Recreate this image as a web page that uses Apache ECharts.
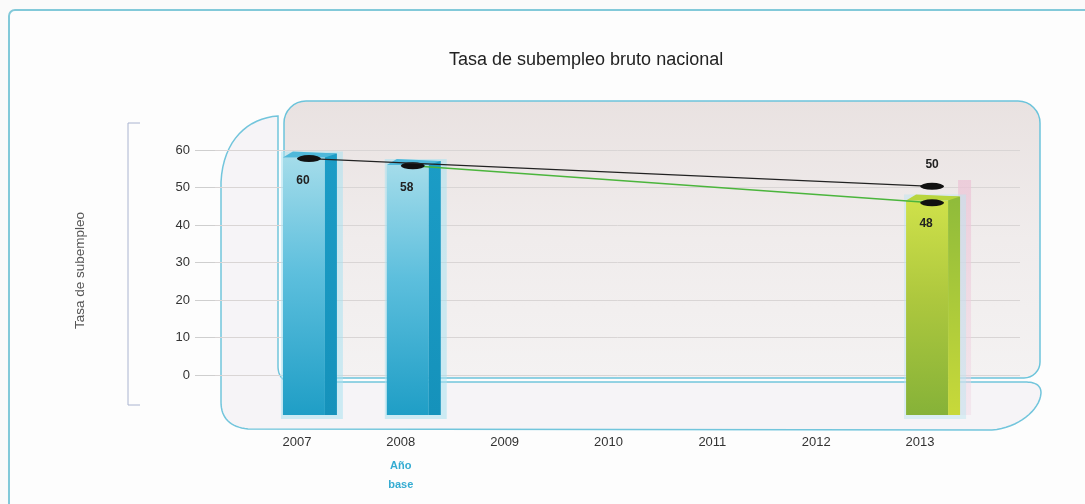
<!DOCTYPE html>
<html>
<head>
<meta charset="utf-8">
<script src="https://cdn.jsdelivr.net/npm/echarts@6/dist/echarts.min.js"></script>
<style>
html,body{margin:0;padding:0;background:#fafafa;}
#chart{width:1085px;height:504px;}
</style>
</head>
<body>
<div id="chart"></div>
<script>
// ---- data ----
const categories = ['2007', '2008', '2009', '2010', '2011', '2012', '2013'];
const yTicks = [0, 10, 20, 30, 40, 50, 60];
// bar heights as drawn against the axis
const baseBars = [58, 56, null, null, null, null, null];
const currentBars = [null, null, null, null, null, null, 46.5];
const ghostBars = [null, null, null, null, null, null, 52];
// numbers printed on the bars
const basePrinted = [60, 58, null, null, null, null, null];
const currentPrinted = [null, null, null, null, null, null, 48];
// line markers as drawn
const blackLine = [57.7, null, null, null, null, null, 50.3];
const greenLine = [null, 55.8, null, null, null, null, 45.9];
const blackPrinted = [null, null, null, null, null, null, 50];
const baseYearLabel = ['Año', 'base'];

const FONT = "'Liberation Sans', Arial, sans-serif";
const chart = echarts.init(document.getElementById('chart'));

function toItems(vals, printed) {
  const out = [];
  vals.forEach((v, i) => { if (v != null) out.push([i, v, printed ? printed[i] : 0]); });
  return out;
}

// sample a simple M/L/C path into polygon points (decorative frame)
function sampleCurve(segs) {
  const pts = [];
  let cur = null;
  segs.forEach(s => {
    if (s[0] === 'M' || s[0] === 'L') { cur = [s[1], s[2]]; pts.push(cur); }
    else if (s[0] === 'C') {
      const p0 = cur, p1 = [s[1], s[2]], p2 = [s[3], s[4]], p3 = [s[5], s[6]];
      for (let k = 1; k <= 16; k++) {
        const t = k / 16, u = 1 - t;
        pts.push([
          u*u*u*p0[0] + 3*u*u*t*p1[0] + 3*u*t*t*p2[0] + t*t*t*p3[0],
          u*u*u*p0[1] + 3*u*u*t*p1[1] + 3*u*t*t*p2[1] + t*t*t*p3[1]
        ]);
      }
      cur = p3;
    }
  });
  return pts;
}

function makeBarRenderer(pal) {
  return function (params, api) {
    const idx = api.value(0), val = api.value(1), printed = api.value(2);
    const top = api.coord([idx, val]);
    const cs = params.coordSys;
    const bottom = cs.y + cs.height;
    const c = top[0], t = top[1];
    const fx0 = c - 14, fx1 = c + 28, sx1 = c + 40, d = 6;
    return {
      type: 'group',
      children: [
        { type: 'rect', shape: { x: fx0 - 2, y: t - d, width: sx1 - fx0 + 8, height: bottom - t + d + 4 },
          style: { fill: pal.glow }, z2: 0 },
        { type: 'rect', shape: { x: fx0, y: t, width: fx1 - fx0, height: bottom - t },
          style: { fill: new echarts.graphic.LinearGradient(0, 0, 0, 1, [
            { offset: 0, color: pal.frontTop }, { offset: 0.45, color: pal.frontMid }, { offset: 1, color: pal.frontBot }]) }, z2: 2 },
        { type: 'rect', shape: { x: fx1, y: t - d + 2, width: sx1 - fx1, height: bottom - t + d - 2 },
          style: { fill: new echarts.graphic.LinearGradient(0, 0, 0, 1, [
            { offset: 0, color: pal.sideTop }, { offset: 1, color: pal.sideBot }]) }, z2: 2 },
        { type: 'polygon', shape: { points: [[fx0, t], [fx1, t], [sx1, t - d + 2], [fx0 + 10, t - d]] },
          style: { fill: pal.topFace }, z2: 3 },
        { type: 'text', x: c + 6, y: t + 23,
          style: { text: String(printed), fill: '#222', font: 'bold 12px ' + FONT, align: 'center', verticalAlign: 'middle' }, z2: 5 }
      ]
    };
  };
}

function renderGhost(params, api) {
  const idx = api.value(0), val = api.value(1);
  const top = api.coord([idx, val]);
  const cs = params.coordSys;
  const bottom = cs.y + cs.height;
  const c = top[0];
  return { type: 'rect', shape: { x: c + 38, y: top[1], width: 13, height: bottom - top[1] },
    style: { fill: new echarts.graphic.LinearGradient(0, 0, 0, 1, [
      { offset: 0, color: 'rgba(236,196,214,0.75)' }, { offset: 1, color: 'rgba(240,215,228,0.45)' }]) } };
}

const blue = { frontTop: '#a4dcea', frontMid: '#5dbfdd', frontBot: '#1f9ec6', sideTop: '#1b9cc6', sideBot: '#1592bb', topFace: '#4fb8da', glow: 'rgba(170,225,240,0.55)' };
const green = { frontTop: '#cfe14a', frontMid: '#aec83e', frontBot: '#86b238', sideTop: '#8fbb3a', sideBot: '#c8d93a', topFace: '#b9d53e', glow: 'rgba(190,230,240,0.5)' };

const yMin = -10.67, yMax = 60;

const wallPts = sampleCurve([
  ['M', 278, 116], ['C', 248, 118, 223, 140, 221, 182], ['L', 221, 402],
  ['C', 221, 418, 230, 427, 248, 429], ['L', 992, 430],
  ['C', 1018, 428, 1040, 410, 1041, 393], ['C', 1041, 385, 1035, 382, 1025, 382],
  ['L', 292, 382], ['C', 283, 382, 278, 376, 278, 366]
]);

const option = {
  backgroundColor: '#fafafa',
  animation: false,
  textStyle: { fontFamily: FONT },
  title: {
    text: 'Tasa de subempleo bruto nacional',
    left: 444, top: 46,
    textStyle: { fontSize: 18, fontWeight: 'normal', color: '#222', fontFamily: FONT }
  },
  graphic: [
    { type: 'rect', z: -20, shape: { x: 9, y: 10, width: 1100, height: 520, r: 6 },
      style: { fill: '#fdfdfd', stroke: '#82c9d9', lineWidth: 2 } },
    { type: 'polygon', z: -15, shape: { points: wallPts },
      style: { fill: '#f6f4f7', stroke: '#72c5dc', lineWidth: 1.5 } },
    { type: 'rect', z: -14, shape: { x: 284, y: 101, width: 756, height: 277, r: [22, 22, 16, 10] },
      style: { fill: new echarts.graphic.LinearGradient(0, 0, 0, 1, [
        { offset: 0, color: '#e9e2e1' }, { offset: 0.5, color: '#f0ecec' }, { offset: 1, color: '#f4f2f2' }]),
        stroke: '#6cc4db', lineWidth: 1.5 } },
    { type: 'polyline', z: -5, shape: { points: [[140, 123], [128, 123], [128, 405], [140, 405]] },
      style: { stroke: '#aab4d0', lineWidth: 1, fill: null } }
  ],
  grid: [
    { left: 215, right: 65, top: 150, bottom: 129 },
    { left: 245, right: 113, top: 150, bottom: 89 },
    { left: 257, right: 101, top: 150, bottom: 89 }
  ],
  xAxis: [
    { gridIndex: 0, type: 'category', data: categories, show: false },
    { gridIndex: 1, type: 'category', data: categories,
      axisLine: { show: false }, axisTick: { show: false },
      axisLabel: {
        margin: 18, fontSize: 13, color: '#333', lineHeight: 18,
        formatter: (v, i) => i === 1 ? v + '\n{a|' + baseYearLabel[0] + '}\n{b|' + baseYearLabel[1] + '}' : v,
        rich: {
          a: { color: '#35acd2', fontWeight: 'bold', fontSize: 11, lineHeight: 30 },
          b: { color: '#35acd2', fontWeight: 'bold', fontSize: 11, lineHeight: 8 }
        }
      } },
    { gridIndex: 2, type: 'category', data: categories, show: false }
  ],
  yAxis: [
    { gridIndex: 0, type: 'value', min: yTicks[0], max: yTicks[yTicks.length - 1], interval: yTicks[1] - yTicks[0],
      name: 'Tasa de subempleo', nameLocation: 'middle', nameGap: 128,
      nameTextStyle: { color: '#555', fontSize: 13.5, fontFamily: FONT, padding: [0, 16, 0, 0] },
      axisLine: { show: false },
      axisTick: { show: true, length: 20, lineStyle: { color: '#cfcfcf' } },
      axisLabel: { margin: 25, fontSize: 13, color: '#333' },
      splitLine: { show: true, lineStyle: { color: '#d9d5d5', width: 1 } } },
    { gridIndex: 1, type: 'value', min: yMin, max: yMax, show: false, splitLine: { show: false } },
    { gridIndex: 2, type: 'value', min: yMin, max: yMax, show: false, splitLine: { show: false } }
  ],
  series: [
    { type: 'custom', name: 'ghost', xAxisIndex: 1, yAxisIndex: 1, z: 2,
      renderItem: renderGhost, data: toItems(ghostBars) },
    { type: 'custom', name: 'base', xAxisIndex: 1, yAxisIndex: 1, z: 3,
      renderItem: makeBarRenderer(blue), data: toItems(baseBars, basePrinted) },
    { type: 'custom', name: 'current', xAxisIndex: 1, yAxisIndex: 1, z: 3,
      renderItem: makeBarRenderer(green), data: toItems(currentBars, currentPrinted) },
    { type: 'line', name: 'green', xAxisIndex: 2, yAxisIndex: 2, z: 6, connectNulls: true,
      data: greenLine, symbol: 'circle', symbolSize: [24, 7],
      itemStyle: { color: '#111' }, lineStyle: { color: '#4bb53c', width: 1.5 } },
    { type: 'line', name: 'black', xAxisIndex: 2, yAxisIndex: 2, z: 7, connectNulls: true,
      data: blackLine.map((v, i) => blackPrinted[i] != null
        ? { value: v, label: { show: true, position: 'top', distance: 12, formatter: String(blackPrinted[i]), fontWeight: 'bold', fontSize: 12, color: '#222' } }
        : v),
      symbol: 'circle', symbolSize: [24, 7],
      itemStyle: { color: '#111' }, lineStyle: { color: '#222', width: 1.3 } }
  ]
};
chart.setOption(option);
</script>
</body>
</html>
